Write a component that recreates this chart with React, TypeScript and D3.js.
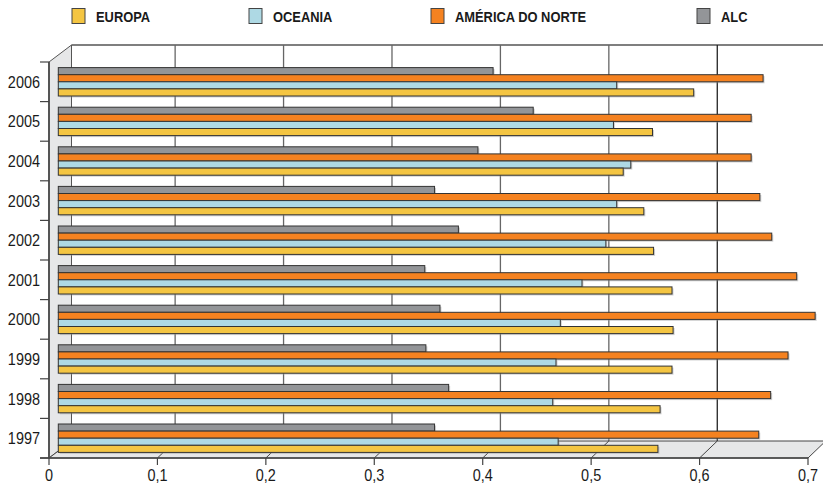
import React from "react";
import * as d3 from "d3";

// values (1997 -> 2006)
const years = ["1997", "1998", "1999", "2000", "2001", "2002", "2003", "2004", "2005", "2006"];
const europa = [0.553, 0.555, 0.566, 0.567, 0.566, 0.549, 0.54, 0.521, 0.548, 0.586];
const oceania = [0.461, 0.456, 0.459, 0.463, 0.483, 0.505, 0.515, 0.528, 0.512, 0.515];
const americaNorte = [0.646, 0.657, 0.673, 0.698, 0.681, 0.658, 0.647, 0.639, 0.639, 0.65];
const alc = [0.347, 0.36, 0.339, 0.352, 0.338, 0.369, 0.347, 0.387, 0.438, 0.401];
const xTicks = [0, 0.1, 0.2, 0.3, 0.4, 0.5, 0.6, 0.7];

const series = [
  { key: "EUROPA", values: europa, color: "#f4c542" },
  { key: "OCEANIA", values: oceania, color: "#aed9e4" },
  { key: "AMÉRICA DO NORTE", values: americaNorte, color: "#f58220" },
  { key: "ALC", values: alc, color: "#939598" },
];
// order of bars inside a group, top to bottom
const barOrder = ["ALC", "AMÉRICA DO NORTE", "OCEANIA", "EUROPA"];
const legendX = [72, 249, 431, 697];

const W = 823;
const H = 484;
const FONT = "'Liberation Sans', Arial, sans-serif";

// condensed text: Liberation Sans squeezed horizontally
const Narrow = ({ x, y, scale, anchor = "start", size, bold = false, children }: any) => (
  <text
    transform={`translate(${x},${y}) scale(${scale},1)`}
    textAnchor={anchor}
    fontFamily={FONT}
    fontWeight={bold ? "bold" : "normal"}
    fontSize={size}
    fill="#1a1a1a"
  >
    {children}
  </text>
);

const App = () => {
  const x = d3.scaleLinear().domain([0, 0.7]).range([49, 808]);
  const depthX = 17.7;
  const depthY = 17;
  const floorY = 458;
  const topY = 62;
  const wallLeft = 71.5;
  const barX = (v: number) => x(v) + 9.3;

  const y = d3.scaleBand<string>().domain([...years].reverse()).range([topY, floorY]).padding(0);
  const groupH = 28.4;
  const inner = d3
    .scaleBand<string>()
    .domain(barOrder)
    .range([(y.bandwidth() - groupH) / 2, (y.bandwidth() + groupH) / 2]);

  const boundaries = [...years.map((yr) => y(yr) as number), floorY];

  return (
    <svg width={W} height={H} style={{ display: "block", position: "absolute", left: 0, top: 0 }}>
      <rect width={W} height={H} fill="#fff" />

      {/* legend */}
      {series.map((s, i) => (
        <g key={s.key}>
          <rect x={legendX[i]} y={8.5} width={13} height={15} fill={s.color} stroke="#444" strokeWidth={1} />
          <Narrow x={legendX[i] + 24} y={21.5} scale={0.86} size={15} bold>
            {s.key}
          </Narrow>
        </g>
      ))}

      {/* left wall */}
      <polygon
        points={`49,${topY} ${wallLeft},${topY - depthY} ${wallLeft},${floorY - depthY} 49,${floorY}`}
        fill="#e6e7e8"
        stroke="#555"
        strokeWidth={1}
      />
      {/* back wall top edge */}
      <line x1={wallLeft} x2={W} y1={topY - depthY} y2={topY - depthY} stroke="#555" strokeWidth={1.3} />

      {/* back wall gridlines */}
      {xTicks
        .filter((t) => t > 0)
        .map((t) => (
          <line
            key={t}
            x1={x(t) + depthX}
            x2={x(t) + depthX}
            y1={topY - depthY}
            y2={floorY - depthY}
            stroke={t === 0.6 ? "#222" : "#666"}
            strokeWidth={1.3}
          />
        ))}

      {/* floor */}
      <polygon
        points={`49,${floorY} ${x(0.7)},${floorY} ${x(0.7) + depthX},${floorY - depthY} ${wallLeft},${floorY - depthY}`}
        fill="#e6e7e8"
        stroke="#444"
        strokeWidth={1}
      />
      {xTicks
        .filter((t) => t > 0 && t < 0.7)
        .map((t) => (
          <line
            key={t}
            x1={x(t)}
            x2={x(t) + depthX}
            y1={floorY}
            y2={floorY - depthY}
            stroke="#444"
            strokeWidth={1}
          />
        ))}

      {/* bars */}
      {years.map((yr, yi) => (
        <g key={yr} transform={`translate(0,${y(yr)})`}>
          {barOrder.map((k) => {
            const s = series.find((d) => d.key === k)!;
            const v = s.values[yi];
            const by = inner(k) as number;
            const bh = inner.bandwidth();
            return (
              <g key={k}>
                <rect
                  x={barX(0) + 1.5}
                  y={by + 1.5}
                  width={barX(v) - barX(0)}
                  height={bh}
                  fill="#9a9a9a"
                  opacity={0.45}
                />
                <rect
                  x={barX(0)}
                  y={by}
                  width={barX(v) - barX(0)}
                  height={bh}
                  fill={s.color}
                  stroke="#333"
                  strokeWidth={1}
                />
              </g>
            );
          })}
        </g>
      ))}

      {/* front axis */}
      <line x1={49} x2={49} y1={topY} y2={floorY} stroke="#555" strokeWidth={2} />
      <line x1={40} x2={x(0.7)} y1={floorY} y2={floorY} stroke="#444" strokeWidth={1.3} />
      {boundaries.map((b, i) => (
        <line key={i} x1={40} x2={49} y1={b} y2={b} stroke="#444" strokeWidth={1.2} />
      ))}
      {xTicks.map((t) => (
        <line key={t} x1={x(t)} x2={x(t)} y1={floorY} y2={floorY + 7} stroke="#444" strokeWidth={1.2} />
      ))}

      {/* labels */}
      {years.map((yr) => (
        <Narrow
          key={yr}
          x={40}
          y={(y(yr) as number) + y.bandwidth() / 2 + 6}
          scale={0.85}
          anchor="end"
          size={17}
        >
          {yr}
        </Narrow>
      ))}
      {xTicks.map((t) => (
        <Narrow key={t} x={x(t)} y={481} scale={0.85} anchor="middle" size={17}>
          {d3.format(".1f")(t).replace(".", ",").replace(/^0,0$/, "0")}
        </Narrow>
      ))}
    </svg>
  );
};

export default App;
